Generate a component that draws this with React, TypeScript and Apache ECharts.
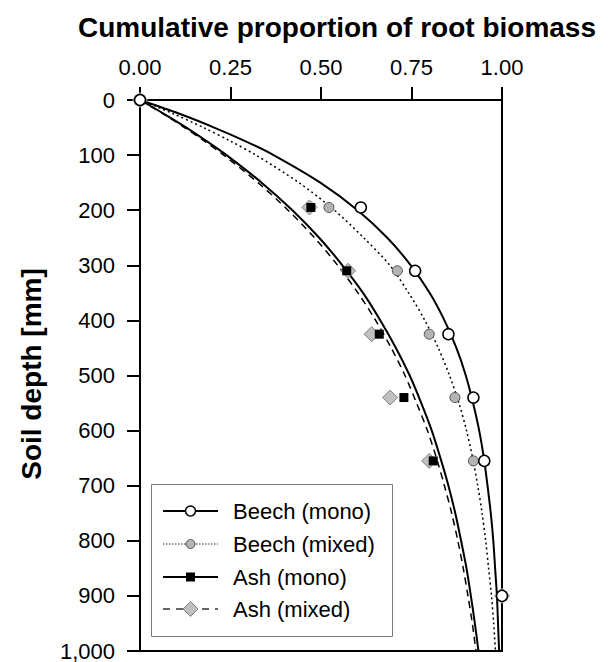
import React, { useEffect, useRef } from "react";
import * as echarts from "echarts";

// Depths (mm) at which the fitted cumulative curves are sampled
const depthGrid = [0, 25, 50, 75, 100, 150, 200, 250, 300, 350, 400, 450, 500, 550, 600, 650, 700, 750, 800, 850, 900, 950, 1000];

// Fitted cumulative root biomass curves
const beechMonoFit = [0, 0.109, 0.205, 0.292, 0.369, 0.498, 0.601, 0.683, 0.748, 0.8, 0.841, 0.874, 0.9, 0.92, 0.937, 0.95, 0.96, 0.969, 0.976, 0.981, 0.986, 0.989, 0.992];
const beechMixedFit = [0, 0.092, 0.175, 0.251, 0.32, 0.439, 0.537, 0.618, 0.69, 0.742, 0.787, 0.824, 0.855, 0.881, 0.902, 0.919, 0.933, 0.945, 0.955, 0.963, 0.971, 0.977, 0.982];
const ashMonoFit = [0, 0.066, 0.128, 0.185, 0.239, 0.336, 0.421, 0.495, 0.559, 0.616, 0.664, 0.707, 0.745, 0.777, 0.806, 0.83, 0.852, 0.871, 0.887, 0.902, 0.914, 0.925, 0.935];
const ashMixedFit = [0, 0.064, 0.123, 0.179, 0.231, 0.326, 0.409, 0.482, 0.546, 0.602, 0.651, 0.694, 0.732, 0.764, 0.794, 0.819, 0.841, 0.861, 0.878, 0.893, 0.906, 0.918, 0.928];

// Observed cumulative proportions per sampling depth (mm)
const obsDepths = [0, 195, 310, 425, 540, 655, 900];
const beechMonoObs = [0, 0.61, 0.76, 0.852, 0.921, 0.951, 1.0];
const beechMixedObs = [0, 0.522, 0.711, 0.799, 0.87, 0.921, 1.0];
const ashMonoObs = [0, 0.472, 0.571, 0.661, 0.729, 0.81, 1.0];
const ashMixedObs = [0, 0.468, 0.575, 0.64, 0.691, 0.799, 1.0];

const seriesNames = ["Beech (mono)", "Beech (mixed)", "Ash (mono)", "Ash (mixed)"];
const xTicks = [0, 0.25, 0.5, 0.75, 1];
const depthTicks = [0, 100, 200, 300, 400, 500, 600, 700, 800, 900, 1000];

const FONT = "'Liberation Sans', Arial, Helvetica, sans-serif";

const pairs = (xs: number[], ys: number[]) => xs.map((x, i) => [x, ys[i]]);

function legendGraphics() {
  const rows = [511, 544, 577, 609];
  const x0 = 163;
  const x1 = 218;
  const cx = 190.5;
  const els: any[] = [
    {
      type: "rect",
      shape: { x: 151.5, y: 484.5, width: 241, height: 152 },
      style: { fill: "#fff", stroke: "#7a7a7a", lineWidth: 1 },
      z: 10,
    },
  ];
  const line = (y: number, style: any) => ({
    type: "line",
    shape: { x1: x0, y1: y, x2: x1, y2: y },
    style: { stroke: "#000", ...style },
    z: 11,
  });
  // Beech (mono)
  els.push(line(rows[0], { lineWidth: 2 }));
  els.push({ type: "circle", shape: { cx, cy: rows[0], r: 5 }, style: { fill: "#fff", stroke: "#000", lineWidth: 1.5 }, z: 12 });
  // Beech (mixed)
  els.push(line(rows[1], { lineWidth: 1, lineDash: [1.5, 1.5], stroke: "#333" }));
  els.push({ type: "circle", shape: { cx, cy: rows[1], r: 4.5 }, style: { fill: "#b4b4b4", stroke: "#505050", lineWidth: 1 }, z: 12 });
  // Ash (mono)
  els.push(line(rows[2], { lineWidth: 2 }));
  els.push({ type: "rect", shape: { x: cx - 4.5, y: rows[2] - 4.5, width: 9, height: 9 }, style: { fill: "#000" }, z: 12 });
  // Ash (mixed)
  els.push(line(rows[3], { lineWidth: 1.5, lineDash: [7, 6], stroke: "#333" }));
  els.push({
    type: "polygon",
    shape: { points: [[cx, rows[3] - 7.5], [cx + 7.5, rows[3]], [cx, rows[3] + 7.5], [cx - 7.5, rows[3]]] },
    style: { fill: "#c0c0c0", stroke: "#808080", lineWidth: 1 },
    z: 12,
  });
  seriesNames.forEach((name, i) => {
    els.push({
      type: "text",
      x: 233,
      y: rows[i],
      style: { text: name, font: `22px ${FONT}`, fill: "#000", align: "left", verticalAlign: "middle" },
      z: 12,
    });
  });
  return els;
}

export default function App() {
  const ref = useRef<HTMLDivElement>(null);

  useEffect(() => {
    if (!ref.current) return;
    const chart = echarts.init(ref.current, null, { renderer: "svg" });

    const fitLine = (name: string, ys: number[], lineStyle: any) => ({
      name,
      type: "line",
      data: pairs(ys, depthGrid),
      smooth: 0.3,
      showSymbol: false,
      symbol: "none",
      lineStyle: { color: "#000", ...lineStyle },
      z: 2,
    });

    const option: any = {
      animation: false,
      backgroundColor: "#fff",
      textStyle: { fontFamily: FONT },
      grid: {
        left: 140,
        top: 100,
        width: 362,
        height: 552,
        show: true,
        borderColor: "#000",
        borderWidth: 2,
        backgroundColor: "transparent",
      },
      xAxis: {
        type: "value",
        position: "top",
        min: 0,
        max: 1,
        interval: 0.25,
        axisLine: { show: true, lineStyle: { color: "#000", width: 2 } },
        axisTick: { show: true, inside: false, length: 13, lineStyle: { color: "#000", width: 2 } },
        axisLabel: {
          color: "#000",
          fontSize: 22,
          fontFamily: FONT,
          margin: 22,
          formatter: (v: number) => (xTicks.includes(v) ? v.toFixed(2) : ""),
        },
        splitLine: { show: false },
      },
      yAxis: {
        type: "value",
        inverse: true,
        min: 0,
        max: 1000,
        interval: 100,
        axisLine: { show: true, lineStyle: { color: "#000", width: 2 } },
        axisTick: { show: true, inside: false, length: 13, lineStyle: { color: "#000", width: 2 } },
        axisLabel: {
          color: "#000",
          fontSize: 22,
          fontFamily: FONT,
          margin: 25,
          formatter: (v: number) => (depthTicks.includes(v) ? v.toLocaleString("en-US") : ""),
        },
        splitLine: { show: false },
      },
      graphic: [
        {
          type: "text",
          x: 337,
          y: 27,
          style: {
            text: "Cumulative proportion of root biomass",
            font: `bold 28px ${FONT}`,
            fill: "#000",
            align: "center",
            verticalAlign: "middle",
          },
        },
        {
          type: "text",
          x: 31,
          y: 374,
          rotation: Math.PI / 2,
          style: {
            text: "Soil depth [mm]",
            font: `bold 28px ${FONT}`,
            fill: "#000",
            align: "center",
            verticalAlign: "middle",
          },
        },
        ...legendGraphics(),
      ],
      series: [
        fitLine(seriesNames[3], ashMixedFit, { width: 1.5, type: [7, 5] }),
        fitLine(seriesNames[2], ashMonoFit, { width: 2, type: "solid" }),
        fitLine(seriesNames[1], beechMixedFit, { width: 1.5, type: [2, 3] }),
        fitLine(seriesNames[0], beechMonoFit, { width: 2, type: "solid" }),
        {
          name: seriesNames[3],
          type: "scatter",
          data: pairs(ashMixedObs, obsDepths),
          symbol: "diamond",
          symbolSize: 15,
          clip: false,
          itemStyle: { color: "#c0c0c0", borderColor: "#808080", borderWidth: 1, opacity: 1 },
          z: 3,
        },
        {
          name: seriesNames[2],
          type: "scatter",
          data: pairs(ashMonoObs, obsDepths),
          symbol: "rect",
          symbolSize: 9,
          clip: false,
          itemStyle: { color: "#000", opacity: 1 },
          z: 4,
        },
        {
          name: seriesNames[1],
          type: "scatter",
          data: pairs(beechMixedObs, obsDepths),
          symbol: "circle",
          symbolSize: 10,
          clip: false,
          itemStyle: { color: "#b4b4b4", borderColor: "#505050", borderWidth: 1, opacity: 1 },
          z: 5,
        },
        {
          name: seriesNames[0],
          type: "scatter",
          data: pairs(beechMonoObs, obsDepths),
          symbol: "circle",
          symbolSize: 11,
          clip: false,
          itemStyle: { color: "#fff", borderColor: "#000", borderWidth: 1.5, opacity: 1 },
          z: 6,
        },
      ],
    };

    chart.setOption(option);
    return () => chart.dispose();
  }, []);

  return (
    <div
      ref={ref}
      style={{ position: "absolute", left: 0, top: 0, width: 608, height: 662, background: "#fff" }}
    />
  );
}
